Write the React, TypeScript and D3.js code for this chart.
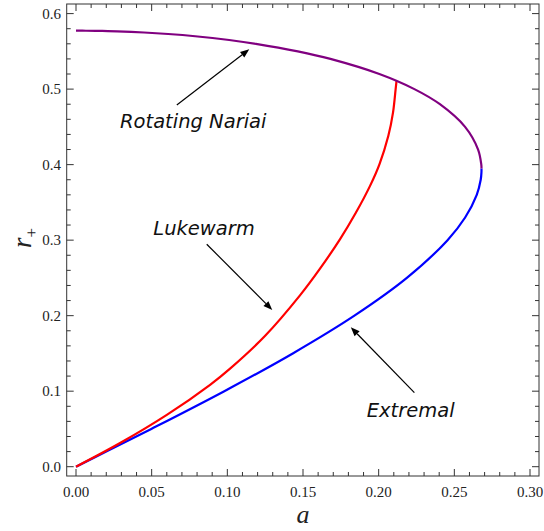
import React from "react";
import * as d3 from "d3";

const xTicks = [0, 0.05, 0.1, 0.15, 0.2, 0.25, 0.3];
const xTickLabels = ["0.00", "0.05", "0.10", "0.15", "0.20", "0.25", "0.30"];
const yTicks = [0, 0.1, 0.2, 0.3, 0.4, 0.5, 0.6];
const yTickLabels = ["0.0", "0.1", "0.2", "0.3", "0.4", "0.5", "0.6"];

// Extremal branch (blue): r+ and a
const extremalR = [0, 0.02, 0.05, 0.1, 0.15, 0.2, 0.25, 0.3, 0.33, 0.36, 0.38, 0.39, 0.395];
const extremalA = [0, 0.01998, 0.04975, 0.098, 0.14325, 0.18397, 0.21862, 0.24551, 0.25714, 0.26481, 0.26743, 0.26792, 0.26794];

// Rotating Nariai branch (purple)
const nariaiR = [0.395, 0.4, 0.42, 0.45, 0.48, 0.5, 0.52, 0.54, 0.55, 0.56, 0.565, 0.57, 0.573, 0.575, 0.5765, 0.577, 0.5773, 0.57735];
const nariaiA = [0.26794, 0.26782, 0.2657, 0.25709, 0.24047, 0.22361, 0.20046, 0.16812, 0.14657, 0.11888, 0.1012, 0.07877, 0.06092, 0.04493, 0.02713, 0.01741, 0.0066, 0];

// Lukewarm (red)
const lukewarmA = [0, 0.03, 0.06, 0.0886, 0.1018, 0.125, 0.148, 0.161, 0.1745, 0.185, 0.1943, 0.2005, 0.2064, 0.2095, 0.2112, 0.2118];
const lukewarmR = [0, 0.0323, 0.0686, 0.1085, 0.1299, 0.1734, 0.2269, 0.2616, 0.3014, 0.3366, 0.3719, 0.4004, 0.4382, 0.4692, 0.4998, 0.511];

const annotations = [
  { text: "Rotating Nariai", tx: 0.0291, ty: 0.4482, x1: 0.0666, y1: 0.4789, x2: 0.1145, y2: 0.5528 },
  { text: "Lukewarm", tx: 0.0511, ty: 0.3069, x1: 0.0864, y1: 0.2946, x2: 0.1297, y2: 0.2075 },
  { text: "Extremal", tx: 0.1921, ty: 0.0662, x1: 0.2236, y1: 0.098, x2: 0.1816, y2: 0.1846 },
];

const W = 544;
const H = 531;
const frame = { left: 66.7, right: 539, top: 4, bottom: 476 };

export default function App() {
  const x = d3.scaleLinear().domain([0, 0.3]).range([76, 530]);
  const y = d3.scaleLinear().domain([0, 0.6]).range([466.7, 13.6]);

  const line = d3
    .line<[number, number]>()
    .x((d) => x(d[0]))
    .y((d) => y(d[1]))
    .curve(d3.curveCatmullRom.alpha(0.5));

  const blue = line(extremalA.map((a, i) => [a, extremalR[i]] as [number, number])) || "";
  const purple = line(nariaiA.map((a, i) => [a, nariaiR[i]] as [number, number])) || "";
  const red = line(lukewarmA.map((a, i) => [a, lukewarmR[i]] as [number, number])) || "";

  const xMinor = d3.range(0, 0.3001, 0.01);
  const yMinor = d3.range(0, 0.6001, 0.02);
  const frameColor = "#333";
  const majorLen = 7;
  const minorLen = 4;

  const arrowHead = (x1: number, y1: number, x2: number, y2: number) => {
    const px1 = x(x1), py1 = y(y1), px2 = x(x2), py2 = y(y2);
    const ang = Math.atan2(py2 - py1, px2 - px1);
    const L = 9, Wd = 3.5;
    const bx = px2 - L * Math.cos(ang), by = py2 - L * Math.sin(ang);
    const nx = -Math.sin(ang), ny = Math.cos(ang);
    return {
      shaft: `M${px1},${py1}L${bx},${by}`,
      head: `M${px2},${py2}L${bx + nx * Wd},${by + ny * Wd}L${bx - nx * Wd},${by - ny * Wd}Z`,
    };
  };

  return (
    <svg width={W} height={H} style={{ position: "absolute", left: 0, top: 0, background: "#fff" }}>
      <rect x={0} y={0} width={W} height={H} fill="#fff" />
      {/* curves */}
      <path d={blue} fill="none" stroke="#0000ff" strokeWidth={2.2} />
      <path d={red} fill="none" stroke="#ff0000" strokeWidth={2.2} />
      <path d={purple} fill="none" stroke="#800080" strokeWidth={2.2} />

      {/* frame */}
      <rect
        x={frame.left}
        y={frame.top}
        width={frame.right - frame.left}
        height={frame.bottom - frame.top}
        fill="none"
        stroke={frameColor}
        strokeWidth={1}
      />
      {/* ticks */}
      {xMinor.map((v, i) => {
        const isMajor = i % 5 === 0;
        const len = isMajor ? majorLen : minorLen;
        return (
          <g key={"xt" + i}>
            <line x1={x(v)} x2={x(v)} y1={frame.bottom} y2={frame.bottom - len} stroke={frameColor} />
            <line x1={x(v)} x2={x(v)} y1={frame.top} y2={frame.top + len} stroke={frameColor} />
          </g>
        );
      })}
      {yMinor.map((v, i) => {
        const isMajor = i % 5 === 0;
        const len = isMajor ? majorLen : minorLen;
        return (
          <g key={"yt" + i}>
            <line x1={frame.left} x2={frame.left + len} y1={y(v)} y2={y(v)} stroke={frameColor} />
            <line x1={frame.right} x2={frame.right - len} y1={y(v)} y2={y(v)} stroke={frameColor} />
          </g>
        );
      })}
      {xTicks.map((v, i) => (
        <text
          key={"xl" + i}
          x={x(v)}
          y={497}
          textAnchor="middle"
          fontFamily="'Liberation Serif', 'Times New Roman', serif"
          fontSize={15}
          fill="#222"
        >
          {xTickLabels[i]}
        </text>
      ))}
      {yTicks.map((v, i) => (
        <text
          key={"yl" + i}
          x={61}
          y={y(v) + 5}
          textAnchor="end"
          fontFamily="'Liberation Serif', 'Times New Roman', serif"
          fontSize={15}
          fill="#222"
        >
          {yTickLabels[i]}
        </text>
      ))}
      {/* axis labels */}
      <text
        x={303}
        y={523}
        textAnchor="middle"
        fontFamily="'Liberation Serif', 'Times New Roman', serif"
        fontStyle="italic"
        fontSize={26}
        fill="#222"
      >
        a
      </text>
      <text
        transform="translate(31,238) rotate(-90)"
        textAnchor="middle"
        fontFamily="'Liberation Serif', 'Times New Roman', serif"
        fontSize={27}
        fill="#222"
      >
        <tspan fontStyle="italic">r</tspan>
        <tspan fontSize={17} dy={6}>+</tspan>
      </text>

      {/* annotations */}
      {annotations.map((a, i) => {
        const ah = arrowHead(a.x1, a.y1, a.x2, a.y2);
        return (
          <g key={"an" + i}>
            <path d={ah.shaft} stroke="#000" strokeWidth={1.2} fill="none" />
            <path d={ah.head} fill="#000" />
            <text
              x={x(a.tx)}
              y={y(a.ty)}
              fontFamily="'DejaVu Sans', Verdana, sans-serif"
              fontStyle="italic"
              fontSize={19.5}
              fill="#111"
            >
              {a.text}
            </text>
          </g>
        );
      })}
    </svg>
  );
}
